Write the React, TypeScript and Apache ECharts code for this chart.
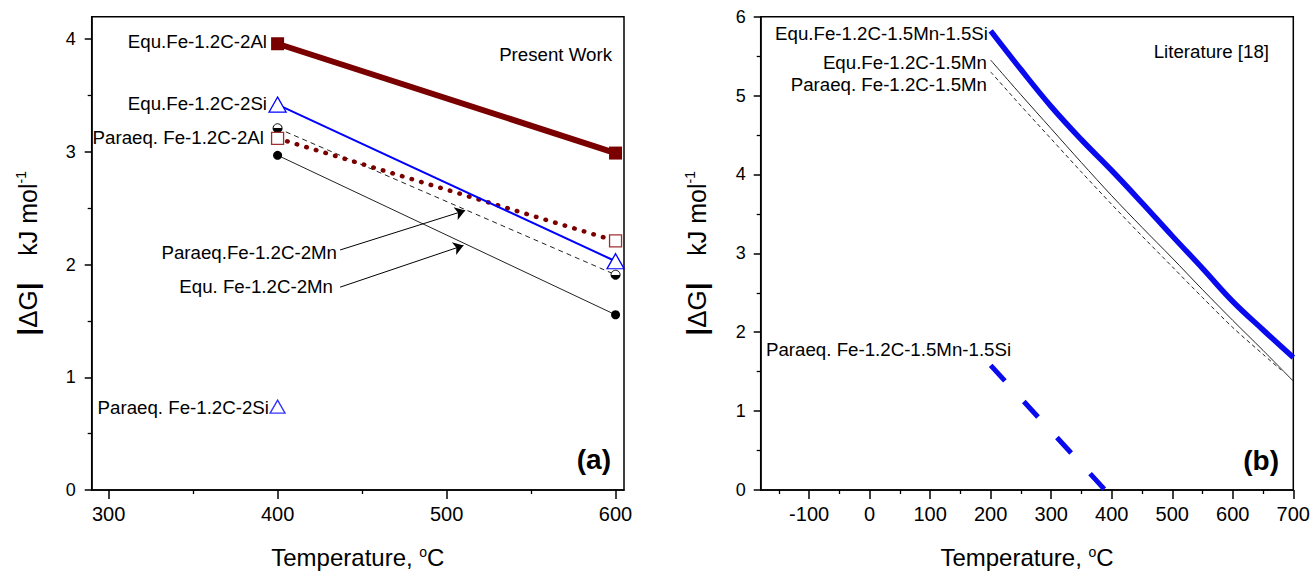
import React, { useEffect, useRef } from 'react';
import * as echarts from 'echarts';

const FONT = '"Liberation Sans", Arial, Helvetica, sans-serif';

// ---------- Panel (a): Present Work ----------
const leftTemps = [400, 600];
const equAl = [3.96, 2.99];
const equSi = [3.42, 2.03];
const paraAl = [3.12, 2.21];
const paraMn = [3.21, 1.91];
const equMn = [2.97, 1.555];
const paraSiTemps = [400];
const paraSi = [0.74];
const leftXTicks = [300, 400, 500, 600];
const leftXMinor = [350, 450, 550];
const leftYTicks = [0, 1, 2, 3, 4];
const leftYMinor = [0.5, 1.5, 2.5, 3.5];
// arrow annotations (data coordinates): tail -> head
const arrowTails = [[437, 2.13], [437, 1.8]];
const arrowHeads = [[511, 2.48], [510, 2.17]];

// ---------- Panel (b): Literature [18] ----------
const rightTemps = [200, 250, 300, 350, 400, 450, 500, 550, 600, 650, 700];
const equMnSiR = [5.82, 5.33, 4.86, 4.44, 4.05, 3.64, 3.22, 2.81, 2.39, 2.03, 1.68];
const equMnR = [5.45, 5.01, 4.58, 4.15, 3.73, 3.33, 2.94, 2.54, 2.15, 1.77, 1.38];
const paraMnTemps = [200, 250, 300, 350, 400, 450, 500, 550, 600, 650, 680];
const paraMnR = [5.3, 4.87, 4.45, 4.03, 3.62, 3.22, 2.83, 2.44, 2.06, 1.72, 1.52];
const paraMnSiTemps = [200, 389];
const paraMnSiR = [1.58, 0];
const rightXTicks = [-100, 0, 100, 200, 300, 400, 500, 600, 700];
const rightXMinor = [-150, -50, 50, 150, 250, 350, 450, 550, 650];
const rightYTicks = [0, 1, 2, 3, 4, 5, 6];
const rightYMinor = [0.5, 1.5, 2.5, 3.5, 4.5, 5.5];

const zip = (xs: number[], ys: number[]) => xs.map((x, i) => [x, ys[i]]);

const LEFT_GRID = { left: 91.7, top: 16.7, width: 532.3, height: 473.3 };
const RIGHT_GRID = { left: 760.7, top: 16.7, width: 532.6, height: 473.3 };

const lineStyleAxis = { color: '#000', width: 1.5 };

function mainX(gridIndex: number, min: number, max: number, ticks: number[]) {
  return {
    type: 'value',
    gridIndex,
    min,
    max,
    position: 'bottom',
    axisLine: { show: true, onZero: false, lineStyle: lineStyleAxis },
    axisTick: { show: true, customValues: ticks, length: 9, lineStyle: { color: '#000', width: 1.5 } },
    axisLabel: { show: true, customValues: ticks, fontSize: 20, margin: 14, color: '#000', fontFamily: FONT },
    splitLine: { show: false },
    name: 'Temperature, {s|o}C',
    nameLocation: 'middle',
    nameGap: 55,
    nameTextStyle: {
      fontSize: 24,
      fontFamily: FONT,
      color: '#000',
      rich: { s: { fontSize: 14, verticalAlign: 'top', fontFamily: FONT, color: '#000' } },
    },
  };
}

function minorX(gridIndex: number, min: number, max: number, ticks: number[]) {
  return {
    type: 'value',
    gridIndex,
    min,
    max,
    position: 'bottom',
    axisLine: { show: false, onZero: false },
    axisTick: { show: true, customValues: ticks, length: 4, lineStyle: { color: '#000', width: 1.3 } },
    axisLabel: { show: false },
    splitLine: { show: false },
  };
}

function mainY(gridIndex: number, min: number, max: number, ticks: number[], margin: number) {
  return {
    type: 'value',
    gridIndex,
    min,
    max,
    position: 'left',
    axisLine: { show: true, onZero: false, lineStyle: lineStyleAxis },
    axisTick: { show: true, customValues: ticks, length: 7, lineStyle: { color: '#000', width: 1.5 } },
    axisLabel: { show: true, customValues: ticks, fontSize: 18, margin, color: '#000', fontFamily: FONT },
    splitLine: { show: false },
    name: '{b||}{g|ΔG}{b||}{sp|    }kJ mol{s|-1}',
    nameLocation: 'middle',
    nameRotate: 90,
    nameGap: 50,
    nameTextStyle: {
      fontSize: 25,
      fontFamily: FONT,
      color: '#000',
      rich: {
        b: { fontSize: 28, fontWeight: 'bold', fontFamily: FONT, color: '#000' },
        g: { fontSize: 26, fontFamily: FONT, color: '#000' },
        sp: { fontSize: 24, fontFamily: FONT },
        s: { fontSize: 14, verticalAlign: 'top', fontFamily: FONT, color: '#000' },
      },
    },
  };
}

function minorY(gridIndex: number, min: number, max: number, ticks: number[]) {
  return {
    type: 'value',
    gridIndex,
    min,
    max,
    position: 'left',
    axisLine: { show: false, onZero: false },
    axisTick: { show: true, customValues: ticks, length: 4, lineStyle: { color: '#000', width: 1.3 } },
    axisLabel: { show: false },
    splitLine: { show: false },
  };
}

function txt(text: string, x: number, y: number, align = 'right', size = 18.7, bold = false) {
  return {
    type: 'text',
    x,
    y,
    silent: true,
    z: 100,
    style: {
      text,
      fill: '#000',
      font: `${bold ? 'bold ' : ''}${size}px ${FONT}`,
      align,
      verticalAlign: 'middle',
      textAlign: align,
      textVerticalAlign: 'middle',
    },
  };
}

const halfFill = new echarts.graphic.LinearGradient(0, 0, 0, 1, [
  { offset: 0, color: '#ffffff' },
  { offset: 0.5, color: '#ffffff' },
  { offset: 0.5, color: '#000000' },
  { offset: 1, color: '#000000' },
]);

const gridBase = { show: true, borderColor: '#000', borderWidth: 1.5, containLabel: false, outerBoundsMode: 'none' };

const option: any = {
  animation: false,
  backgroundColor: '#fff',
  grid: [
    { ...LEFT_GRID, ...gridBase },
    { ...LEFT_GRID, show: false, containLabel: false, outerBoundsMode: 'none' },
    { ...RIGHT_GRID, ...gridBase },
    { ...RIGHT_GRID, show: false, containLabel: false, outerBoundsMode: 'none' },
  ],
  xAxis: [
    mainX(0, 290, 605, leftXTicks),
    minorX(1, 290, 605, leftXMinor),
    mainX(2, -180, 700, rightXTicks),
    minorX(3, -180, 700, rightXMinor),
  ],
  yAxis: [
    mainY(0, 0, 4.2, leftYTicks, 16),
    minorY(1, 0, 4.2, leftYMinor),
    mainY(2, 0, 6, rightYTicks, 15),
    minorY(3, 0, 6, rightYMinor),
  ],
  series: [
    // ----- panel (a) -----
    {
      name: 'Equ. Fe-1.2C-2Mn',
      type: 'line',
      xAxisIndex: 0,
      yAxisIndex: 0,
      data: zip(leftTemps, equMn),
      symbol: 'circle',
      symbolSize: 9,
      itemStyle: { color: '#000', borderColor: '#000', borderWidth: 0 },
      lineStyle: { color: '#222', width: 1 },
      silent: true,
      z: 2,
      markLine: {
        silent: true,
        symbol: ['none', 'arrow'],
        symbolSize: 10,
        label: { show: false },
        itemStyle: { color: '#000' },
        lineStyle: { color: '#000', width: 1, type: 'solid' },
        emphasis: { disabled: true },
        data: arrowTails.map((t, i) => [{ coord: t }, { coord: arrowHeads[i] }]),
      },
    },
    {
      name: 'Paraeq.Fe-1.2C-2Mn',
      type: 'line',
      xAxisIndex: 0,
      yAxisIndex: 0,
      data: zip(leftTemps, paraMn),
      symbol: 'circle',
      symbolSize: 9,
      itemStyle: { color: halfFill, borderColor: '#000', borderWidth: 1 },
      lineStyle: { color: '#222', width: 1, type: [5, 4] },
      silent: true,
      z: 2,
    },
    {
      name: 'Paraeq. Fe-1.2C-2Al',
      type: 'line',
      xAxisIndex: 0,
      yAxisIndex: 0,
      data: zip(leftTemps, paraAl),
      symbol: 'rect',
      symbolSize: 12,
      itemStyle: { color: '#fff', borderColor: '#a03030', borderWidth: 1.3 },
      lineStyle: { color: '#7a0000', width: 4.5, type: [0.5, 9.5], cap: 'round' },
      silent: true,
      z: 3,
    },
    {
      name: 'Equ.Fe-1.2C-2Si',
      type: 'line',
      xAxisIndex: 0,
      yAxisIndex: 0,
      data: zip(leftTemps, equSi),
      symbol: 'triangle',
      symbolSize: [17, 15],
      itemStyle: { color: '#fff', borderColor: '#0000ff', borderWidth: 1.3 },
      lineStyle: { color: '#0000ff', width: 2 },
      silent: true,
      z: 4,
    },
    {
      name: 'Equ.Fe-1.2C-2Al',
      type: 'line',
      xAxisIndex: 0,
      yAxisIndex: 0,
      data: zip(leftTemps, equAl),
      symbol: 'rect',
      symbolSize: 13,
      itemStyle: { color: '#7a0000' },
      lineStyle: { color: '#7a0000', width: 6 },
      silent: true,
      z: 5,
    },
    {
      name: 'Paraeq. Fe-1.2C-2Si',
      type: 'scatter',
      xAxisIndex: 0,
      yAxisIndex: 0,
      data: zip(paraSiTemps, paraSi),
      symbol: 'triangle',
      symbolSize: [15, 13],
      itemStyle: { color: '#fff', borderColor: '#0000ff', borderWidth: 1.3 },
      silent: true,
      z: 5,
    },
    // ----- panel (b) -----
    {
      name: 'Paraeq. Fe-1.2C-1.5Mn',
      type: 'line',
      xAxisIndex: 2,
      yAxisIndex: 2,
      data: zip(paraMnTemps, paraMnR),
      showSymbol: false,
      symbol: 'none',
      smooth: 0.3,
      lineStyle: { color: '#222', width: 1, type: [4, 3] },
      silent: true,
    },
    {
      name: 'Equ.Fe-1.2C-1.5Mn',
      type: 'line',
      xAxisIndex: 2,
      yAxisIndex: 2,
      data: zip(rightTemps, equMnR),
      showSymbol: false,
      symbol: 'none',
      smooth: 0.3,
      lineStyle: { color: '#222', width: 1 },
      silent: true,
    },
    {
      name: 'Equ.Fe-1.2C-1.5Mn-1.5Si',
      type: 'line',
      xAxisIndex: 2,
      yAxisIndex: 2,
      data: zip(rightTemps, equMnSiR),
      showSymbol: false,
      symbol: 'none',
      smooth: 0.4,
      lineStyle: { color: '#0a0aee', width: 5.5 },
      silent: true,
    },
    {
      name: 'Paraeq. Fe-1.2C-1.5Mn-1.5Si',
      type: 'line',
      xAxisIndex: 2,
      yAxisIndex: 2,
      data: zip(paraMnSiTemps, paraMnSiR),
      showSymbol: false,
      symbol: 'none',
      lineStyle: { color: '#0a0aee', width: 5, type: [21, 28] },
      silent: true,
    },
  ],
  graphic: [
    // panel (a) annotations
    txt('Equ.Fe-1.2C-2Al', 267, 41),
    txt('Equ.Fe-1.2C-2Si', 267, 103),
    txt('Paraeq. Fe-1.2C-2Al', 264, 137),
    txt('Paraeq.Fe-1.2C-2Mn', 337, 252),
    txt('Equ. Fe-1.2C-2Mn', 333, 286),
    txt('Paraeq. Fe-1.2C-2Si', 269, 407),
    txt('Present Work', 612, 54),
    txt('(a)', 611, 459, 'right', 28, true),
    // panel (b) annotations
    txt('Equ.Fe-1.2C-1.5Mn-1.5Si', 988, 33),
    txt('Equ.Fe-1.2C-1.5Mn', 987, 62),
    txt('Paraeq. Fe-1.2C-1.5Mn', 987, 84),
    txt('Paraeq. Fe-1.2C-1.5Mn-1.5Si', 766, 349, 'left'),
    txt('Literature [18]', 1269, 51),
    txt('(b)', 1279, 460, 'right', 28, true),
  ],
};

export default function App() {
  const ref = useRef<HTMLDivElement>(null);
  useEffect(() => {
    document.body.style.margin = '0';
    const chart = echarts.init(ref.current!, null, { renderer: 'svg' });
    chart.setOption(option);
    return () => chart.dispose();
  }, []);
  return (
    <div
      ref={ref}
      style={{ position: 'absolute', left: 0, top: 0, width: 1311, height: 571, background: '#fff' }}
    />
  );
}
